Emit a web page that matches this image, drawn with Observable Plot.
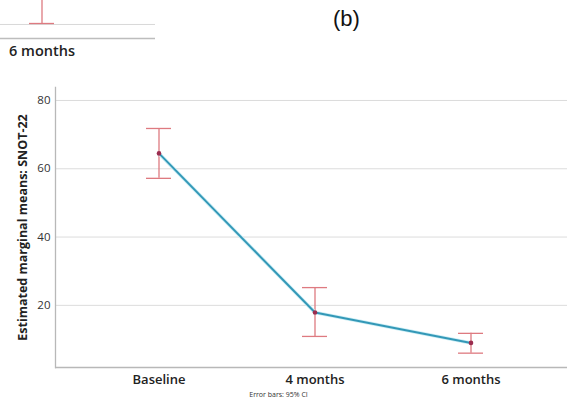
<!DOCTYPE html>
<html>
<head>
<meta charset="utf-8">
<script src="https://cdn.jsdelivr.net/npm/d3@7"></script>
<script src="https://cdn.jsdelivr.net/npm/@observablehq/plot@0.6"></script>
<style>
  html, body { margin: 0; padding: 0; background: #fff; }
  body { width: 567px; height: 408px; position: relative; overflow: hidden; font-family: "Open Sans", sans-serif; }
  #frag { position: absolute; left: 0; top: 0; }
  #panel { position: absolute; left: 333px; top: 6px; font-family: "Liberation Sans", sans-serif; font-size: 22px; color: #111; }
  #main { position: absolute; left: 0; top: 80px; }
  svg text { font-family: "Open Sans", sans-serif; }
  g[aria-label="y-axis label"] text { font-weight: 700; font-size: 12.5px; fill: #222; }
</style>
</head>
<body>
<div id="frag"></div>
<div id="panel">(b)</div>
<div id="main"></div>
<script>
// Main chart data (panel b)
const timepoints = ["Baseline", "4 months", "6 months"];
const means = [64.5, 17.9, 9.0];
const lowerCI = [57.2, 10.9, 6.0];
const upperCI = [71.8, 25.2, 11.8];
const yTicks = [20, 40, 60, 80];
const yLabel = "Estimated marginal means: SNOT-22";
const caption = "Error bars: 95% CI";

// Fragment of the panel above (cropped)
const fragCategories = ["6 months"];
const fragLower = [10.7];
const fragUpper = [40];
const fragTicks = [10];

const data = timepoints.map((t, i) => ({t, mean: means[i], lo: lowerCI[i], hi: upperCI[i]}));
const fragData = fragCategories.map((t, i) => ({t, lo: fragLower[i], hi: fragUpper[i]}));

const errColor = "#de7a80";
const lineColor = "#3398b7";
const dotColor = "#9b2d4f";

// Fragment plot
const frag = Plot.plot({
  width: 155, height: 62,
  marginLeft: 0, marginRight: 0, marginTop: 0, marginBottom: 24,
  style: {fontSize: "14px", color: "#222", background: "transparent", overflow: "visible"},
  x: {type: "band", domain: fragCategories, paddingInner: 0, paddingOuter: 2.6, align: 0.223, label: null},
  y: {domain: [0, 27.1], ticks: fragTicks, label: null, axis: null},
  marks: [
    Plot.gridY(fragTicks, {stroke: "#d8d8d8", strokeOpacity: 1}),
    Plot.ruleY([0], {stroke: "#bdbdbd", strokeWidth: 1.3}),
    Plot.ruleX(fragData, {x: "t", y1: "lo", y2: "hi", stroke: errColor, strokeWidth: 1.3, clip: true}),
    Plot.tickY(fragData, {x: "t", y: "lo", stroke: errColor, strokeWidth: 1.3}),
    Plot.axisX({tickSize: 0, tickPadding: 7, fontSize: 14.5, fontWeight: 600, fill: "#222"})
  ]
});
document.getElementById("frag").appendChild(frag);

// Main plot
const main = Plot.plot({
  width: 567, height: 328,
  marginLeft: 55, marginRight: 0, marginTop: 7, marginBottom: 41,
  style: {fontSize: "11px", color: "#333", background: "transparent", overflow: "visible"},
  x: {type: "band", domain: timepoints, paddingInner: 0.84, paddingOuter: 0.561, align: 0.52, label: null},
  y: {domain: [1.8, 83.8], ticks: yTicks, label: yLabel},
  marks: [
    Plot.gridY(yTicks, {stroke: "#dcdcdc", strokeOpacity: 1}),
    Plot.ruleY([1.8], {stroke: "#b8b8b8", strokeWidth: 1.3}),
    Plot.frame({anchor: "left", stroke: "#b8b8b8", strokeWidth: 1.3}),
    Plot.axisY({ticks: yTicks, tickSize: 0, tickPadding: 5, fontSize: 11.5, fill: "#333",
      label: yLabel, labelAnchor: "center", labelArrow: "none", labelOffset: 37}),
    Plot.axisX({tickSize: 0, tickPadding: 7, fontSize: 13, fontWeight: 600, fill: "#222"}),
    Plot.ruleX(data, {x: "t", y1: "lo", y2: "hi", stroke: errColor, strokeWidth: 1.3}),
    Plot.tickY(data, {x: "t", y: "lo", stroke: errColor, strokeWidth: 1.3}),
    Plot.tickY(data, {x: "t", y: "hi", stroke: errColor, strokeWidth: 1.3}),
    Plot.lineY(data, {x: "t", y: "mean", stroke: "#cdeef5", strokeWidth: 3.6}),
    Plot.lineY(data, {x: "t", y: "mean", stroke: lineColor, strokeWidth: 2}),
    Plot.dot(data, {x: "t", y: "mean", r: 2.3, fill: dotColor, stroke: null}),
    Plot.text([caption], {frameAnchor: "bottom", dx: -33, dy: 29, fontSize: 7, fill: "#333"})
  ]
});
document.getElementById("main").appendChild(main);
</script>
</body>
</html>
